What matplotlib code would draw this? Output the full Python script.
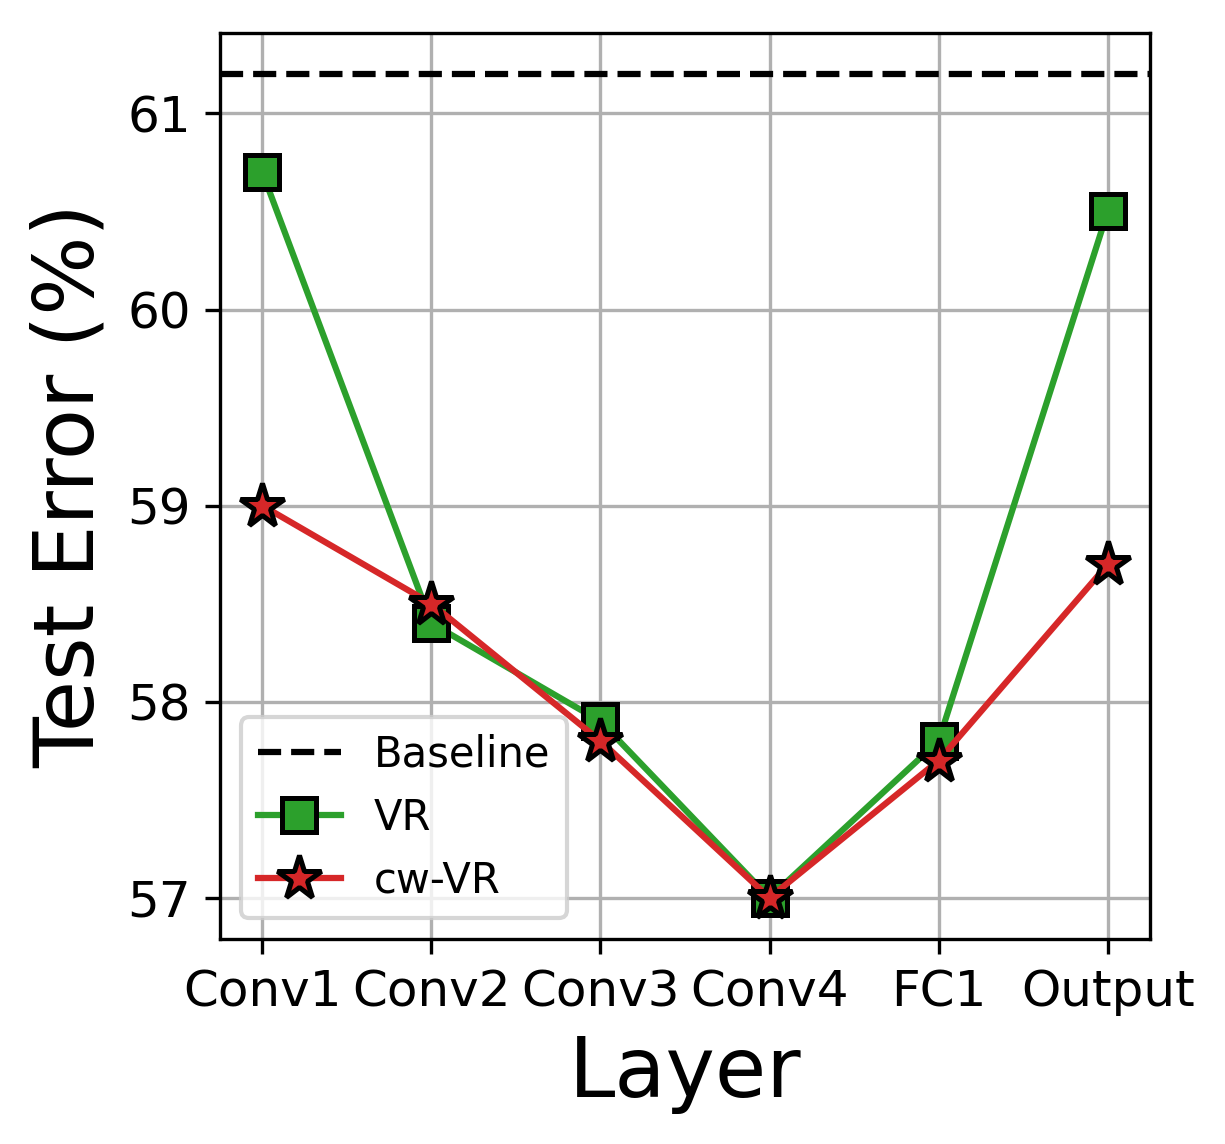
import matplotlib
matplotlib.use("Agg")
import matplotlib.pyplot as plt

layers = ["Conv1", "Conv2", "Conv3", "Conv4", "FC1", "Output"]
baseline = 61.2
vr = [60.7, 58.4, 57.9, 57.0, 57.8, 60.5]
cw_vr = [59.0, 58.5, 57.8, 57.0, 57.7, 58.7]

fig = plt.figure(figsize=(1225/300, 1144/300), dpi=300)
ax = fig.add_axes([220/1225, 1-939/1144, (1150-220)/1225, (939-33)/1144])
x = list(range(len(layers)))
ax.axhline(baseline, color="black", linestyle="--", linewidth=1.5, label="Baseline")
ax.plot(x, vr, color="#2ca02c", marker="s", markersize=8, markeredgecolor="black",
        markeredgewidth=1.2, linewidth=1.5, label="VR")
ax.plot(x, cw_vr, color="#d62728", marker="*", markersize=11, markeredgecolor="black",
        markeredgewidth=1.2, linewidth=1.5, label="cw-VR")
ax.set_xticks(x)
ax.set_xticklabels(layers)
ax.tick_params(labelsize=12)
ax.set_yticks([57, 58, 59, 60, 61])
ax.margins(x=0.05, y=0.05)
ax.grid(True)
ax.set_axisbelow(True)
ax.set_xlabel("Layer", fontsize=20)
ax.set_ylabel("Test Error (%)", fontsize=20)
ax.legend(fontsize=10, loc="lower left")
fig.savefig("out.png", dpi=300)
